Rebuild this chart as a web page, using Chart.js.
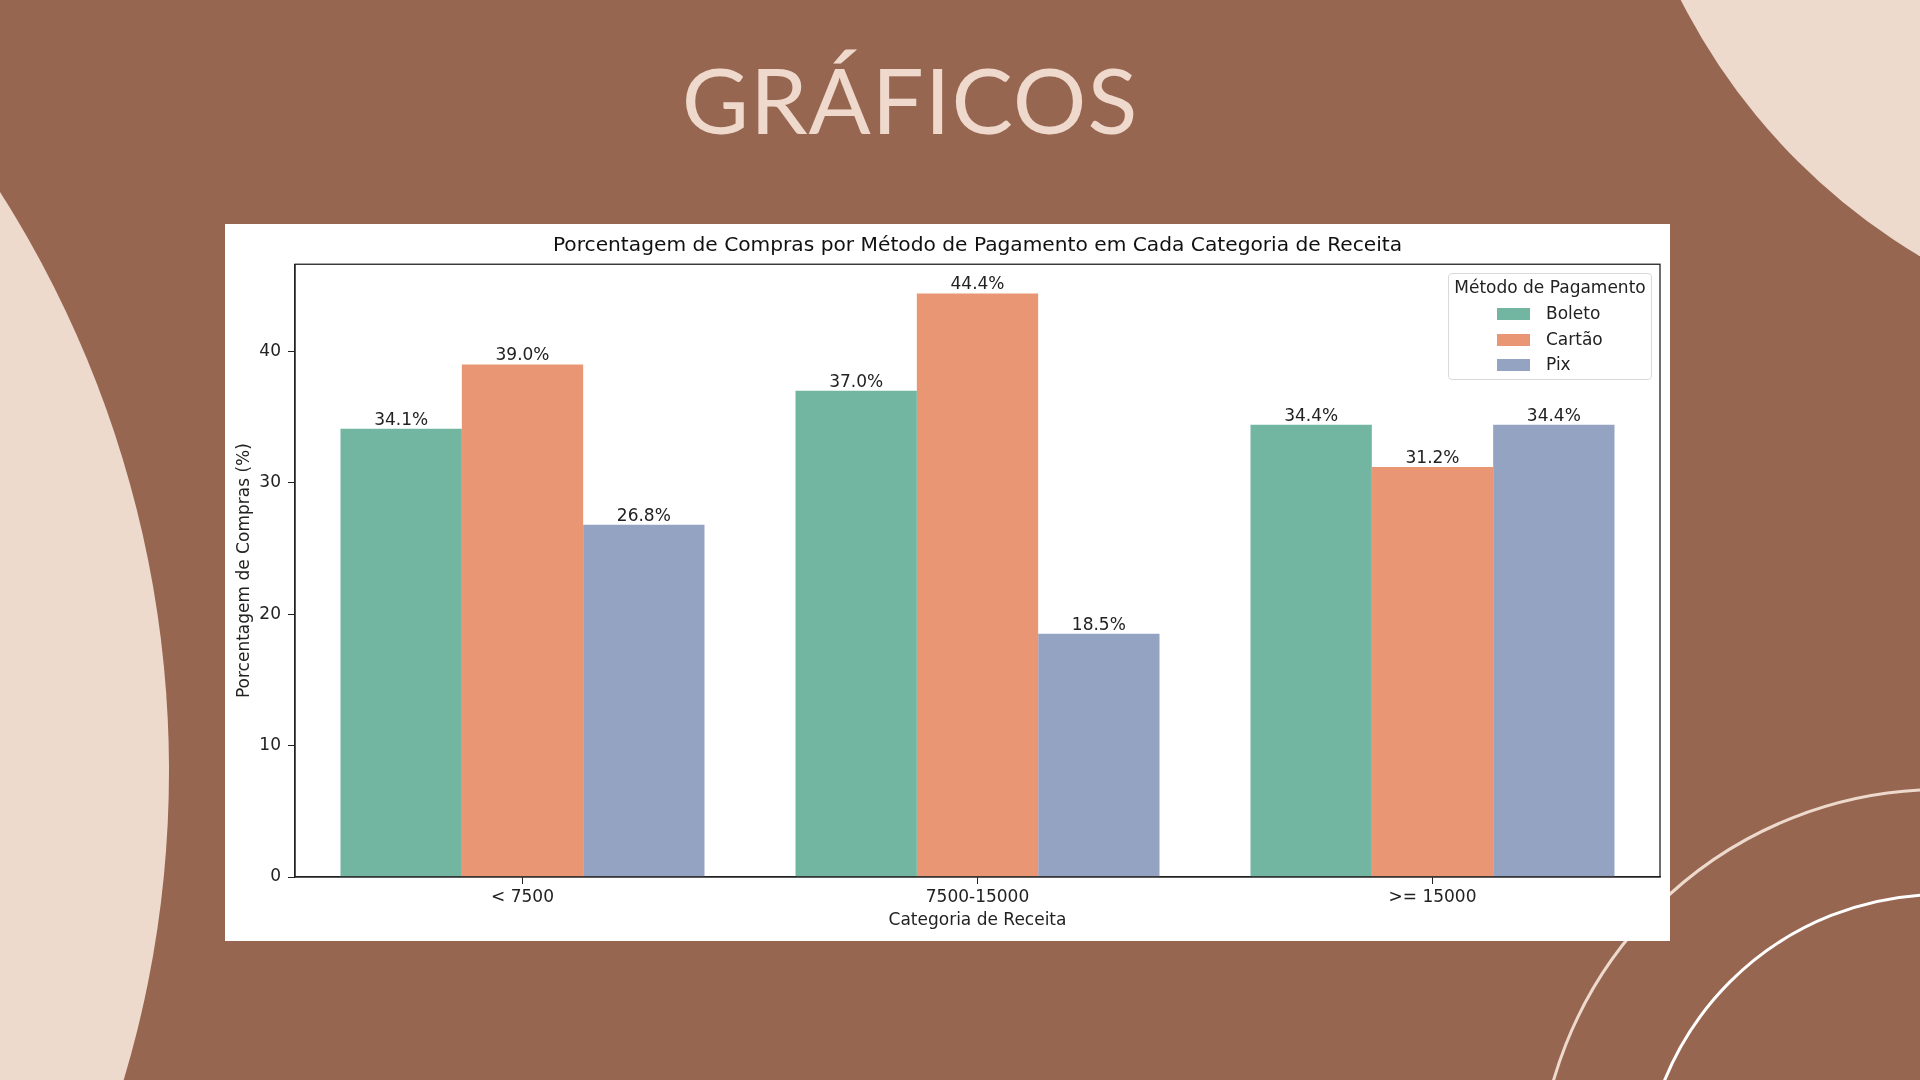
<!DOCTYPE html>
<html>
<head>
<meta charset="utf-8">
<script src="https://cdn.jsdelivr.net/npm/chart.js@4.4.1/dist/chart.umd.min.js"></script>
<style>
  html, body { margin: 0; padding: 0; }
  body { width: 1920px; height: 1080px; overflow: hidden; position: relative; background: #966650; font-family: "DejaVu Sans", sans-serif; }
  .deco { position: absolute; border-radius: 50%; box-sizing: border-box; }
  #heading { position: absolute; left: 610px; width: 600px; top: 53px; text-align: center; font-family: Lato, sans-serif; font-size: 92px; line-height: 1; color: #eed9cc; letter-spacing: 1px; }
  #card { position: absolute; left: 225px; top: 224px; width: 1445px; height: 717px; background: #fff; }
  #legend { position: absolute; left: 1448px; top: 273px; width: 204px; height: 107px; box-sizing: border-box; border: 1px solid #d9d9d9; border-radius: 4px; background: rgba(255,255,255,0.85); font-size: 17px; color: #222; }
  #legend .ttl { position: absolute; left: 0; right: 0; top: 3px; text-align: center; white-space: nowrap; }
  #legend .row { position: absolute; left: 0; height: 20px; }
  #legend .sw { position: absolute; left: 48px; top: 4px; width: 33px; height: 12px; }
  #legend .lb { position: absolute; left: 97px; top: -1px; white-space: nowrap; }
</style>
</head>
<body>
<div class="deco" style="left:-1983px;top:-305px;width:2152px;height:2152px;background:#eed9cd;"></div>
<div class="deco" style="left:1613px;top:-913px;width:1258px;height:1258px;background:#eed9cd;"></div>
<div class="deco" style="left:1536px;top:788px;width:810px;height:810px;border:3px solid #eed9cd;"></div>
<div class="deco" style="left:1641px;top:893px;width:600px;height:600px;border:3px solid #ffffff;"></div>
<div id="heading">GRÁFICOS</div>
<div id="card"><canvas id="chart" width="1445" height="717"></canvas></div>
<div id="legend"><div class="ttl">Método de Pagamento</div></div>
<script>
const categories = ['< 7500', '7500-15000', '>= 15000'];
const methods = ['Boleto', 'Cartão', 'Pix'];
const boleto = [34.1, 37.0, 34.4];
const cartao = [39.0, 44.4, 31.2];
const pix = [26.8, 18.5, 34.4];
const yTicks = [0, 10, 20, 30, 40];
const colors = ['#72b6a1', '#e99675', '#95a3c3'];

const font = { family: '"DejaVu Sans", sans-serif', size: 17 };

// value labels on top of each bar
const barLabels = {
    id: 'barLabels',
    afterDatasetsDraw(chart) {
        const ctx = chart.ctx;
        ctx.save();
        ctx.font = '17px "DejaVu Sans"';
        ctx.fillStyle = '#222';
        ctx.textAlign = 'center';
        ctx.textBaseline = 'alphabetic';
        chart.data.datasets.forEach((ds, i) => {
            chart.getDatasetMeta(i).data.forEach((bar, j) => {
                ctx.fillText(ds.data[j].toFixed(1) + '%', bar.x, bar.y - 4);
            });
        });
        ctx.restore();
    }
};

// box around the plot, like matplotlib spines
const frame = {
    id: 'frame',
    afterDraw(chart) {
        const a = chart.chartArea;
        const ctx = chart.ctx;
        ctx.save();
        ctx.strokeStyle = '#222';
        ctx.lineWidth = 1.3;
        ctx.strokeRect(a.left, a.top, a.right - a.left, a.bottom - a.top);
        ctx.restore();
    }
};

const ctx = document.getElementById('chart').getContext('2d');
const chart = new Chart(ctx, {
    type: 'bar',
    data: {
        labels: categories,
        datasets: [boleto, cartao, pix].map((d, i) => ({
            label: methods[i],
            data: d,
            backgroundColor: colors[i],
            borderWidth: 0,
            categoryPercentage: 0.8,
            barPercentage: 1.0
        }))
    },
    options: {
        responsive: false,
        devicePixelRatio: 1,
        animation: false,
        layout: { padding: { left: 0, right: 10, top: 0, bottom: 0 } },
        plugins: {
            legend: { display: false },
            tooltip: { enabled: false },
            title: {
                display: true,
                fullSize: false,
                text: 'Porcentagem de Compras por Método de Pagamento em Cada Categoria de Receita',
                color: '#111',
                font: { family: '"DejaVu Sans", sans-serif', size: 20.2, weight: 'normal' },
                padding: { top: 10, bottom: 6 }
            }
        },
        scales: {
            x: {
                offset: true,
                afterFit: s => { s.height = 64; },
                grid: { offset: false, drawOnChartArea: false, drawTicks: true, tickLength: 7, color: '#222' },
                border: { display: true, color: '#222', width: 1.3 },
                ticks: { color: '#222', font: font, padding: 3 },
                title: { display: true, text: 'Categoria de Receita', color: '#222', font: font, padding: { top: 0, bottom: 10 } }
            },
            y: {
                min: 0,
                max: 46.62,
                afterFit: s => { s.width = 70; },
                afterBuildTicks: s => { s.ticks = yTicks.map(v => ({ value: v })); },
                grid: { drawOnChartArea: false, drawTicks: true, tickLength: 7, color: '#222' },
                border: { display: true, color: '#222', width: 1.3 },
                ticks: { color: '#222', font: font, padding: 7 },
                title: { display: true, text: 'Porcentagem de Compras (%)', color: '#222', font: font, padding: { top: 9, bottom: 0 } }
            }
        }
    },
    plugins: [barLabels, frame]
});

// legend box in the upper right of the plot
const legend = document.getElementById('legend');
methods.forEach((m, i) => {
    const row = document.createElement('div');
    row.className = 'row';
    row.style.top = (30 + i * 25.5) + 'px';
    row.innerHTML = '<div class="sw" style="background:' + colors[i] + '"></div><div class="lb">' + m + '</div>';
    legend.appendChild(row);
});
</script>
</body>
</html>
